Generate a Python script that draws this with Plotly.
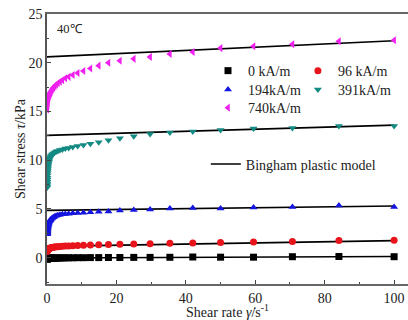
import plotly.graph_objects as go

# Shear rates (1/s)
shear_rate = [100, 84.1, 70.7, 59.5, 50, 42, 35.4, 29.7, 25, 21, 17.7, 14.9, 12.5, 10.5,
              8.84, 7.43, 6.25, 5.26, 4.42, 3.72, 3.13, 2.63, 2.21, 1.86, 1.56, 1.31, 1.1,
              0.93, 0.78, 0.66, 0.55, 0.46, 0.39, 0.33, 0.28, 0.23, 0.2, 0.16, 0.14, 0.12,
              0.1, 0.084, 0.071, 0.059, 0.05]

tau_0 = [0.1, 0.12, 0.1, 0.05, 0.05, 0.07, 0.04, 0.03, 0.03, 0.02, 0.02, 0.01, 0.01, 0.0,
         0.0, -0.01, -0.01, -0.02, -0.02, -0.03, -0.03, -0.04, -0.04, -0.05, -0.05, -0.05, -0.06,
         -0.06, -0.06, -0.07, -0.07, -0.07, -0.08, -0.08, -0.08, -0.09, -0.09, -0.09, -0.1, -0.1,
         -0.1, -0.11, -0.11, -0.12, -0.12]

tau_96 = [1.8, 1.75, 1.65, 1.6, 1.55, 1.5, 1.48, 1.44, 1.4, 1.38, 1.35, 1.32, 1.3, 1.27,
          1.25, 1.23, 1.21, 1.19, 1.17, 1.15, 1.13, 1.11, 1.09, 1.07, 1.05, 1.03, 1.01,
          0.99, 0.97, 0.95, 0.93, 0.91, 0.89, 0.87, 0.85, 0.83, 0.81, 0.79, 0.77, 0.75,
          0.73, 0.71, 0.69, 0.67, 0.65]

tau_194 = [5.2, 5.35, 5.2, 5.15, 5.05, 5.1, 5.05, 4.95, 4.9, 4.85, 4.75, 4.7, 4.65, 4.6,
           4.58, 4.55, 4.5, 4.48, 4.45, 4.4, 4.35, 4.3, 4.22, 4.15, 4.07, 4.0, 3.92,
           3.85, 3.77, 3.7, 3.6, 3.5, 3.4, 3.3, 3.2, 3.1, 3.0, 2.9, 2.8, 2.7,
           2.6, 2.55, 2.5, 2.45, 2.4]

tau_391 = [13.5, 13.5, 13.3, 13.25, 13.1, 12.95, 12.85, 12.7, 12.45, 12.25, 12.05, 11.85, 11.7, 11.55,
           11.45, 11.35, 11.25, 11.2, 11.1, 11.05, 10.95, 10.9, 10.8, 10.7, 10.6, 10.5, 10.4,
           10.3, 10.15, 10.0, 9.85, 9.7, 9.5, 9.3, 9.1, 8.9, 8.7, 8.45, 8.2, 8.0,
           7.8, 7.6, 7.45, 7.3, 7.2]

tau_740 = [22.3, 22.2, 21.9, 21.7, 21.5, 21.1, 20.9, 20.6, 20.4, 20.2, 20.0, 19.7, 19.4, 19.15,
           18.95, 18.75, 18.55, 18.4, 18.2, 18.05, 17.9, 17.75, 17.6, 17.45, 17.3, 17.15, 17.0,
           16.9, 16.8, 16.7, 16.6, 16.5, 16.4, 16.3, 16.2, 16.1, 16.0, 15.9, 15.8, 15.7,
           15.6, 15.5, 15.4, 15.3, 15.2]

# Bingham plastic model fits (endpoints at shear rate 0 and 100)
bingham_x = [0, 100]
bingham_0 = [-0.03, 0.12]
bingham_96 = [1.16, 1.75]
bingham_194 = [4.85, 5.3]
bingham_391 = [12.55, 13.6]
bingham_740 = [20.6, 22.25]

series_names = ["0 kA/m", "96 kA/m", "194kA/m", "391kA/m", "740kA/m"]
x_ticks = [0, 20, 40, 60, 80, 100]
y_ticks = [0, 5, 10, 15, 20, 25]

FONT = "Liberation Serif"
fig = go.Figure()

for yb in [bingham_0, bingham_96, bingham_194, bingham_391, bingham_740]:
    fig.add_trace(go.Scatter(x=bingham_x, y=yb, mode="lines",
                             line=dict(color="black", width=1.6),
                             showlegend=False, hoverinfo="skip"))

styles = [
    ("square", "black", "legend"),
    ("circle", "#e8141c", "legend2"),
    ("triangle-up", "#1515e0", "legend3"),
    ("triangle-down", "#138a82", "legend4"),
    ("triangle-left", "#f020f0", "legend5"),
]
for name, vals, (sym, col, lg) in zip(series_names,
                                      [tau_0, tau_96, tau_194, tau_391, tau_740], styles):
    fig.add_trace(go.Scatter(x=shear_rate, y=vals, mode="markers", name=name,
                             marker=dict(symbol=sym, color=col, size=7, line=dict(width=0)),
                             legend=lg))

# legend entry for the model line
fig.add_trace(go.Scatter(x=[None], y=[None], mode="lines", name="Bingham plastic model",
                         line=dict(color="black", width=1.6), legend="legend6"))

leg_common = dict(bgcolor="rgba(0,0,0,0)", font=dict(family=FONT, size=14, color="#222"),
                  tracegroupgap=0, xanchor="left", yanchor="top", itemwidth=30)
fig.update_layout(
    width=408, height=320,
    margin=dict(l=47, r=0, t=14, b=36),
    plot_bgcolor="white", paper_bgcolor="white",
    font=dict(family=FONT, size=14, color="#222"),
    legend=dict(x=0.446, y=0.848, **leg_common),
    legend2=dict(x=0.695, y=0.848, **leg_common),
    legend3=dict(x=0.446, y=0.778, **leg_common),
    legend4=dict(x=0.695, y=0.778, **leg_common),
    legend5=dict(x=0.446, y=0.711, **leg_common),
    legend6=dict(x=0.44, y=0.502, **leg_common),
    xaxis=dict(range=[0, 104], tickvals=x_ticks, ticks="inside", ticklen=4,
               tickcolor="#444", showline=True, linecolor="#666", linewidth=1.8,
               mirror=True, showgrid=False, zeroline=False,
               minor=dict(dtick=10, tick0=0, ticks="inside", ticklen=2, tickcolor="#444"),
               title=dict(text="Shear rate <i>γ̇</i>/s<sup>-1</sup>", standoff=2,
                          font=dict(family=FONT, size=14)),
               tickfont=dict(family=FONT, size=14)),
    yaxis=dict(range=[-2.7, 25], tickvals=y_ticks, ticks="inside", ticklen=4,
               tickcolor="#444", showline=True, linecolor="#555", linewidth=1.5,
               mirror=False, showgrid=False, zeroline=False,
               minor=dict(dtick=2.5, tick0=0, ticks="inside", ticklen=2, tickcolor="#444"),
               title=dict(text="Shear stress <i>τ</i>/kPa", standoff=0,
                          font=dict(family=FONT, size=14)),
               tickfont=dict(family=FONT, size=14)),
    annotations=[dict(text="40℃", x=0.022, y=0.944, xref="paper", yref="paper",
                      xanchor="left", yanchor="middle", showarrow=False,
                      font=dict(family=FONT, size=12.5, color="#222"))],
)

fig.write_html("out.html", config={"displayModeBar": False},
               post_script="document.body.style.margin='0';")
